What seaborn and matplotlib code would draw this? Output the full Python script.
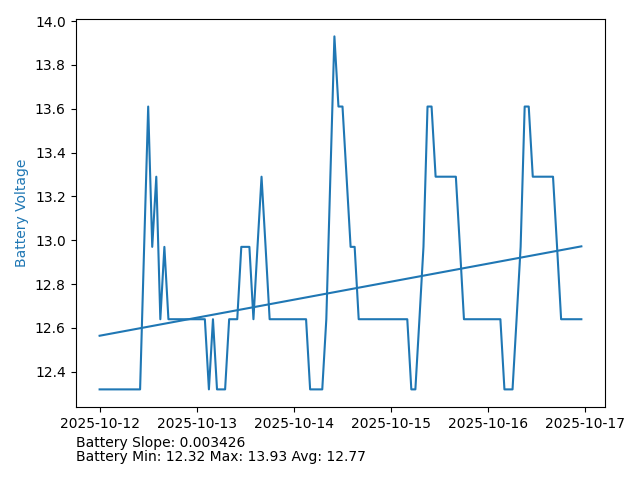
import numpy as np
import pandas as pd
import seaborn as sns
import matplotlib.pyplot as plt

# hourly battery readings, starting 2025-10-12 00:00
start_time = "2025-10-12 00:00"
battery_voltage = [
    12.32, 12.32, 12.32, 12.32, 12.32, 12.32, 12.32, 12.32, 12.32, 12.32,
    12.32, 12.97, 13.61, 12.97, 13.29, 12.64, 12.97, 12.64, 12.64, 12.64,
    12.64, 12.64, 12.64, 12.64, 12.64, 12.64, 12.64, 12.32, 12.64, 12.32,
    12.32, 12.32, 12.64, 12.64, 12.64, 12.97, 12.97, 12.97, 12.64, 12.97,
    13.29, 12.97, 12.64, 12.64, 12.64, 12.64, 12.64, 12.64, 12.64, 12.64,
    12.64, 12.64, 12.32, 12.32, 12.32, 12.32, 12.64, 13.29, 13.93, 13.61,
    13.61, 13.29, 12.97, 12.97, 12.64, 12.64, 12.64, 12.64, 12.64, 12.64,
    12.64, 12.64, 12.64, 12.64, 12.64, 12.64, 12.64, 12.32, 12.32, 12.64,
    12.97, 13.61, 13.61, 13.29, 13.29, 13.29, 13.29, 13.29, 13.29, 12.97,
    12.64, 12.64, 12.64, 12.64, 12.64, 12.64, 12.64, 12.64, 12.64, 12.64,
    12.32, 12.32, 12.32, 12.64, 12.97, 13.61, 13.61, 13.29, 13.29, 13.29,
    13.29, 13.29, 13.29, 12.97, 12.64, 12.64, 12.64, 12.64, 12.64, 12.64,
]

df = pd.DataFrame({
    "time": pd.date_range(start_time, periods=len(battery_voltage), freq="h"),
    "voltage": battery_voltage,
})

# linear trend per hour
hours = np.arange(len(df))
slope, intercept = np.polyfit(hours, df["voltage"], 1)
df["trend"] = slope * hours + intercept

fig, ax = plt.subplots(figsize=(6.4, 4.8), dpi=100)
sns.lineplot(x="time", y="voltage", data=df, ax=ax, color="tab:blue")
sns.lineplot(x="time", y="trend", data=df, ax=ax, color="tab:blue")
ax.set_xlabel("")
ax.set_ylabel("Battery Voltage", color="tab:blue")

v = df["voltage"]
fig.text(0.118, 0.0927, f"Battery Slope: {slope:.6f}", va="top")
fig.text(0.118, 0.0615, f"Battery Min: {v.min():.2f} Max: {v.max():.2f} Avg: {v.mean():.2f}", va="top")

fig.subplots_adjust(left=0.118, right=0.946, top=0.961, bottom=0.152)
plt.savefig("out.png")
